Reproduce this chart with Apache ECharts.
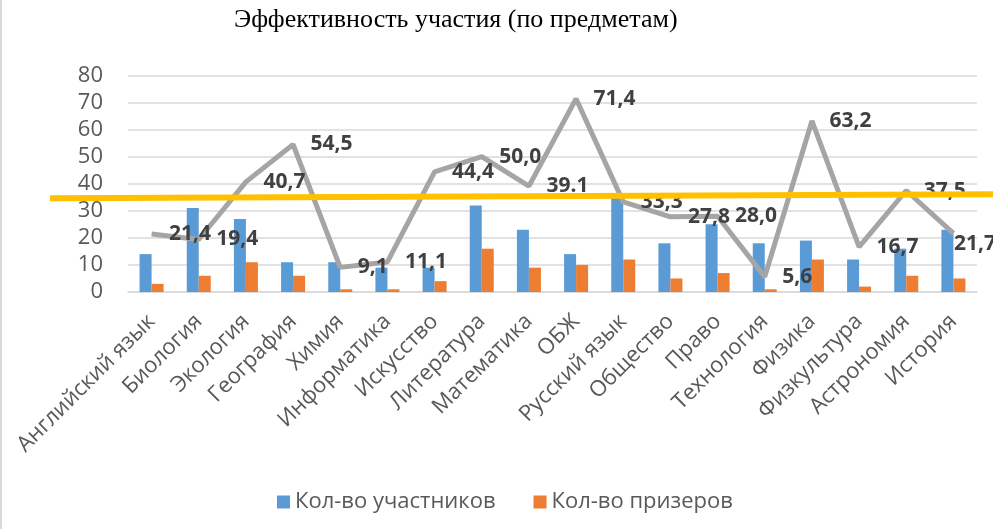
<!DOCTYPE html>
<html><head><meta charset="utf-8">
<script src="https://cdn.jsdelivr.net/npm/echarts@6/dist/echarts.min.js"></script>
<style>html,body{margin:0;padding:0;background:#fff}#c{width:993px;height:529px}</style>
</head><body><div id="c"></div>
<script>
const categories = ["Английский язык","Биология","Экология","География","Химия","Информатика","Искусство","Литература","Математика","ОБЖ","Русский язык","Общество","Право","Технология","Физика","Физкультура","Астрономия","История"];
const participants = [14,31,27,11,11,9,9,32,23,14,36,18,25,18,19,12,16,23];
const winners = [3,6,11,6,1,1,4,16,9,10,12,5,7,1,12,2,6,5];
const efficiency = [21.4,19.4,40.7,54.5,9.1,11.1,44.4,50.0,39.1,71.4,33.3,27.8,28.0,5.6,63.2,16.7,37.5,21.7];
const efficiencyLabels = ["21,4","19,4","40,7","54,5","9,1","11,1","44,4","50,0","39.1","71,4","33,3","27,8","28,0","5,6","63,2","16,7","37,5","21,7"];
const yTicks = [0,10,20,30,40,50,60,70,80];
const thresholdLine = [34.6, 36.1];

const W = 993;
const chart = echarts.init(document.getElementById('c'));
const FONT = '"Open Sans", "Noto Sans", sans-serif';
chart.setOption({
  animation: false,
  title: {
    text: 'Эффективность участия (по предметам)',
    left: 229, top: 2,
    textStyle: { fontFamily: '"Liberation Serif", "DejaVu Serif", serif', fontSize: 26, fontWeight: 'normal', color: '#000' }
  },
  legend: {
    data: ['Кол-во участников', 'Кол-во призеров'],
    left: 272, top: 486,
    itemWidth: 13, itemHeight: 13, itemGap: 38,
    icon: 'rect',
    textStyle: { fontFamily: FONT, fontSize: 22, color: '#595959' }
  },
  grid: { left: 128, right: 16, top: 75.5, bottom: 237, containLabel: false },
  xAxis: {
    type: 'category',
    data: categories,
    axisLine: { lineStyle: { color: '#D9D9D9', width: 1.5 } },
    axisTick: { show: false },
    axisLabel: { rotate: 45, interval: 0, margin: 26, fontFamily: FONT, fontSize: 22, color: '#595959' }
  },
  yAxis: {
    type: 'value', min: yTicks[0], max: yTicks[yTicks.length - 1], interval: 10,
    axisLine: { show: false }, axisTick: { show: false },
    splitLine: { lineStyle: { color: '#D9D9D9', width: 1.5 } },
    axisLabel: { margin: 25, fontFamily: FONT, fontSize: 22, color: '#595959' }
  },
  series: [
    { name: 'Кол-во участников', type: 'bar', data: participants, barWidth: 12, barGap: '0%', itemStyle: { color: '#5B9BD5' } },
    { name: 'Кол-во призеров', type: 'bar', data: winners, barWidth: 12, barGap: '0%', itemStyle: { color: '#ED7D31' } },
    { name: 'Эффективность', type: 'line', data: efficiency, symbol: 'circle', symbolSize: 1, showSymbol: true, z: 3,
      itemStyle: { color: 'rgba(0,0,0,0)' },
      lineStyle: { color: '#A5A5A5', width: 5 },
      labelLayout: function (p) {
        const r = p.labelRect;
        if (r.x + r.width > W) return { x: W - r.width + 3 };
        return {};
      },
      label: { show: true, position: 'right', distance: 17,
        formatter: p => efficiencyLabels[p.dataIndex],
        fontFamily: FONT, fontSize: 21, fontWeight: 'bold', color: '#404040' } }
  ]
});
const yL = chart.convertToPixel({ yAxisIndex: 0 }, thresholdLine[0]);
const yR = chart.convertToPixel({ yAxisIndex: 0 }, thresholdLine[1]);
chart.setOption({
  graphic: [
    { type: 'line', z: 100, shape: { x1: 1, y1: 0, x2: 1, y2: 529 }, style: { stroke: '#D9D9D9', lineWidth: 2 } },
    { type: 'line', z: 100, shape: { x1: 50, y1: yL, x2: W, y2: yR }, style: { stroke: '#FFC000', lineWidth: 6 } }
  ]
});
</script></body></html>
